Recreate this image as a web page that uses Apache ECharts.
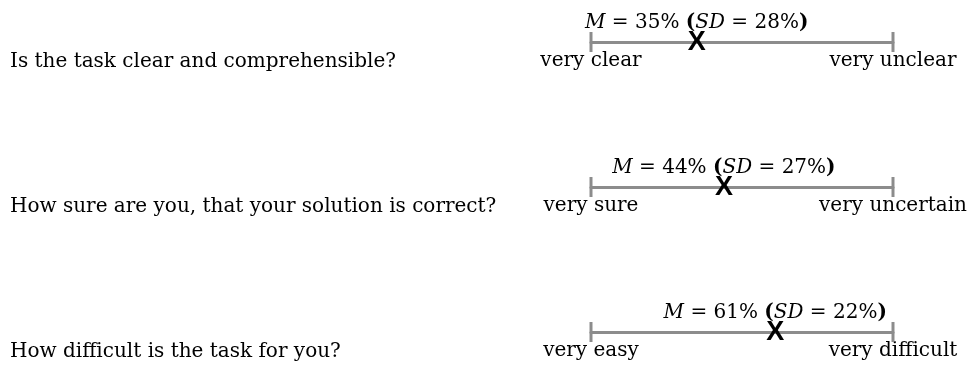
<!DOCTYPE html>
<html>
<head>
<meta charset="utf-8">
<script src="https://cdn.jsdelivr.net/npm/echarts@6/dist/echarts.min.js"></script>
<style>
  html, body { margin: 0; padding: 0; background: #fff; }
  #main { width: 974px; height: 370px; }
</style>
</head>
<body>
<div id="main"></div>
<script>
// survey items
var questions = [
  'Is the task clear and comprehensible?',
  'How sure are you, that your solution is correct?',
  'How difficult is the task for you?'
];
var lowLabels = ['very clear', 'very sure', 'very easy'];
var highLabels = ['very unclear', 'very uncertain', 'very difficult'];
var means = [35, 44, 61];
var sds = [28, 27, 22];
var scaleMin = 0;
var scaleMax = 100;

var lineY = [42, 187, 332];
var serif = 'DejaVu Serif';
var gray = '#8c8c8c';

var grids = [], xAxes = [], yAxes = [], series = [], titles = [];

questions.forEach(function (q, i) {
  // grid bottom sits on the scale line
  grids.push({ left: 591, width: 302, top: lineY[i] - 20, height: 20, outerBoundsMode: 'none', containLabel: false });
  xAxes.push({
    type: 'value', gridIndex: i, min: scaleMin, max: scaleMax, interval: scaleMax - scaleMin,
    axisLine: { show: true, onZero: false, lineStyle: { color: gray, width: 3 } },
    axisTick: { show: false },
    splitLine: { show: false },
    axisLabel: {
      margin: 9,
      fontFamily: serif, fontSize: 20, color: '#000',
      formatter: function (v) { return v === scaleMin ? lowLabels[i] : highLabels[i]; }
    }
  });
  yAxes.push({ type: 'value', gridIndex: i, min: 0, max: 1, show: false });

  titles.push({
    text: q, left: 10, top: lineY[i] + 10, padding: 0,
    textStyle: { fontFamily: serif, fontSize: 20, fontWeight: 'normal', color: '#000' }
  });

  // end caps
  series.push({
    type: 'scatter', xAxisIndex: i, yAxisIndex: i, silent: true, clip: false,
    symbol: 'rect', symbolSize: [3, 20],
    itemStyle: { color: gray, opacity: 1 },
    data: [[scaleMin, 0], [scaleMax, 0]]
  });
  // mean marker
  series.push({
    type: 'scatter', xAxisIndex: i, yAxisIndex: i, silent: true, clip: false,
    symbolSize: 1, itemStyle: { color: 'rgba(0,0,0,0)', opacity: 1 },
    data: [[means[i], 0]],
    label: {
      show: true, position: 'inside', formatter: 'X', offset: [0, 1],
      fontFamily: 'Liberation Sans', fontWeight: 'bold', fontSize: 27, color: '#000'
    }
  });
  // M / SD text
  series.push({
    type: 'scatter', xAxisIndex: i, yAxisIndex: i, silent: true, clip: false,
    symbolSize: 1, itemStyle: { color: 'rgba(0,0,0,0)', opacity: 1 },
    data: [[means[i], 0]],
    label: {
      show: true, position: 'top', distance: 9,
      formatter: '{i|M} = ' + means[i] + '% {b|(}{i|SD} = ' + sds[i] + '%{b|)}',
      fontFamily: serif, fontSize: 20, color: '#000',
      rich: {
        i: { fontFamily: serif, fontStyle: 'italic', fontSize: 20, color: '#000' },
        b: { fontFamily: serif, fontWeight: 'bold', fontSize: 20, color: '#000' }
      }
    }
  });
});

var chart = echarts.init(document.getElementById('main'));
chart.setOption({
  animation: false,
  title: titles,
  grid: grids,
  xAxis: xAxes,
  yAxis: yAxes,
  series: series
});
</script>
</body>
</html>
